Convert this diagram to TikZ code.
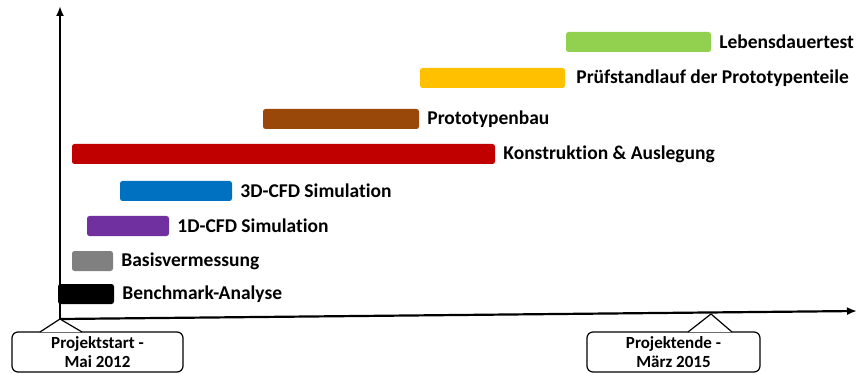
\documentclass[tikz,border=0pt]{standalone}
\usepackage{fontspec}
\setmainfont[Ligatures=NoCommon]{Carlito}
\usetikzlibrary{positioning,arrows.meta}

\definecolor{cgreen}{RGB}{146,208,80}
\definecolor{cyellow}{RGB}{255,192,0}
\definecolor{cbrown}{RGB}{153,72,10}
\definecolor{cred}{RGB}{192,0,0}
\definecolor{cblue}{RGB}{0,112,192}
\definecolor{cpurple}{RGB}{112,48,160}
\definecolor{cgrey}{RGB}{128,128,128}

\begin{document}
\begin{tikzpicture}[x=1pt,y=-1pt,node distance=8pt,>={Latex[length=10pt,width=8pt]},
  bar/.style={rounded corners=2.5pt,minimum height=20pt,inner sep=0pt},
  lbl/.style={font=\fontsize{19.5}{22}\selectfont\bfseries,inner sep=0pt},
  note/.style={draw,rounded corners=6pt,line width=1.2pt,align=center,
    font=\fontsize{17}{19}\selectfont\bfseries,minimum height=40pt,inner sep=0pt},
  notetip/.style={draw,fill=white,line width=1.2pt,line join=round}]
  \useasboundingbox (0,0) rectangle (859,374);

  % axes
  \coordinate (o)    at (60,319);
  \coordinate (ytop) at (60,6);
  \coordinate (xend) at (857,311);
  \coordinate (e)    at (711,314);
  \draw[->,line width=2.2pt] (o) -- (ytop);
  \draw[->,line width=2.2pt] (o) -- (xend);

  % bars
  \node[bar,fill=cgreen,minimum width=145pt]  (leben)  at (638.5,42) {};
  \node[bar,fill=cyellow,minimum width=145pt] (pruef)  at (492.5,78) {};
  \node[bar,fill=cbrown,minimum width=156pt]  (proto)  at (341,119)  {};
  \node[bar,fill=cred,minimum width=423pt]    (konst)  at (283.5,154) {};
  \node[bar,fill=cblue,minimum width=112pt]   (cfd3)   at (176,191)  {};
  \node[bar,fill=cpurple,minimum width=82pt]  (cfd1)   at (128,226)  {};
  \node[bar,fill=cgrey,minimum width=41pt]    (basis)  at (92.5,261) {};
  \node[bar,fill=black,minimum width=56pt]    (bench)  at (86,294)   {};

  \node[lbl,right=of leben] {Lebensdauertest};
  \node[lbl,right=11pt of pruef] {Prüfstandlauf der Prototypenteile};
  \node[lbl,right=of proto] {Prototypenbau};
  \node[lbl,right=of konst] {Konstruktion \& Auslegung};
  \node[lbl,right=of cfd3]  {3D-CFD Simulation};
  \node[lbl,right=of cfd1]  {1D-CFD Simulation};
  \node[lbl,right=of basis] {Basisvermessung};
  \node[lbl,right=of bench] {Benchmark-Analyse};

  % callouts
  \node[note,minimum width=171pt] (start) at (97.5,352) {Projektstart -\\Mai 2012};
  \node[note,minimum width=173pt] (ende)  at (673.5,352) {Projektende -\\März 2015};
  \draw[notetip] ([xshift=-20pt,yshift=-0.6pt]start.north -| o) -- (o)
    -- ([xshift=22pt,yshift=-0.6pt]start.north -| o);
  \draw[notetip] ([xshift=-23pt,yshift=-0.6pt]ende.north -| e) -- (e)
    -- ([xshift=21pt,yshift=-0.6pt]ende.north -| e);
\end{tikzpicture}
\end{document}
